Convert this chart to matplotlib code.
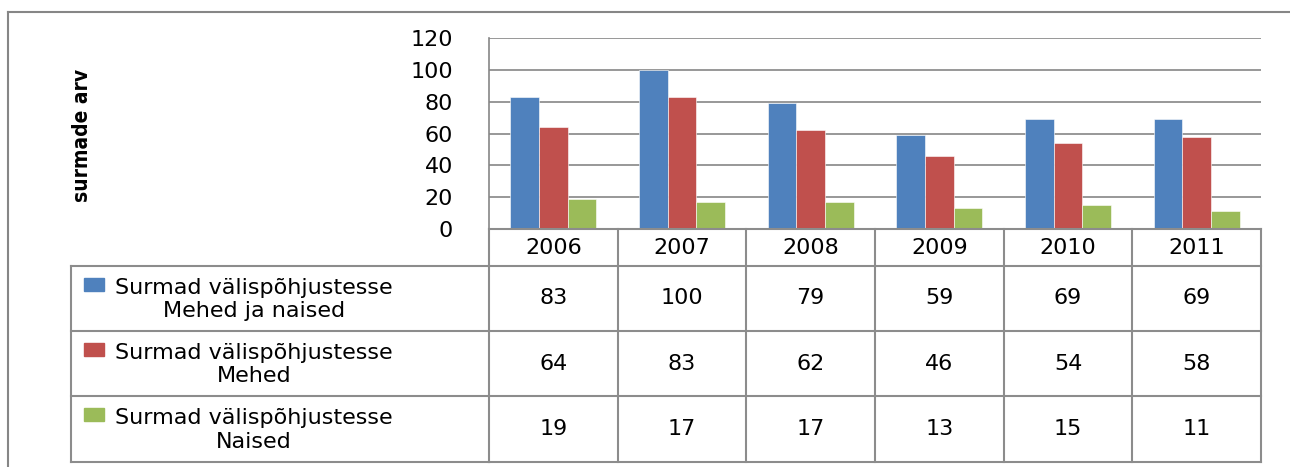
import numpy as np
import matplotlib
matplotlib.use("Agg")
import matplotlib.pyplot as plt
import matplotlib.transforms as mtransforms
from matplotlib.lines import Line2D
from matplotlib.patches import Rectangle

years = ["2006", "2007", "2008", "2009", "2010", "2011"]
series_names = ["Surmad välispõhjustesse\nMehed ja naised",
                "Surmad välispõhjustesse\nMehed",
                "Surmad välispõhjustesse\nNaised"]
total = [83, 100, 79, 59, 69, 69]
men = [64, 83, 62, 46, 54, 58]
women = [19, 17, 17, 13, 15, 11]
colors = ["#4F81BD", "#C0504D", "#9BBB59"]

W, H = 1290, 467
fig = plt.figure(figsize=(W / 100, H / 100), dpi=100)


def fx(px):
    return px / W


def fy(py):
    return 1 - py / H


grid_c = "#868686"
fs = 16
ax = fig.add_axes([fx(489), fy(229), fx(1261) - fx(489), fy(38) - fy(229)])

x = np.arange(len(years))
bw = 0.222
for i, vals in enumerate([total, men, women]):
    ax.bar(x + (i - 1) * bw, vals, bw, color=colors[i], edgecolor="white",
           linewidth=0.4, zorder=3)

ax.set_xlim(-0.5, len(years) - 0.5)
ax.set_ylim(0, 120)
ax.set_yticks(range(0, 121, 20))
ax.set_xticks([])
ax.tick_params(axis="y", length=0, pad=26, labelsize=fs)
ax.yaxis.grid(True, color=grid_c, linewidth=1.2, zorder=0)
for s in ["top", "right", "bottom"]:
    ax.spines[s].set_visible(False)
ax.spines["left"].set_color(grid_c)
ax.spines["left"].set_linewidth(1.2)

fig.text(fx(82), fy(135), "surmade arv", rotation=90, ha="center", va="center",
         fontsize=15, fontweight="bold", fontstretch="condensed",
         family=["DejaVu Sans"])

# data table under the chart
tr = mtransforms.blended_transform_factory(ax.transData, fig.transFigure)
tab_c = "#8C8C8C"
lw = 1.5
row_edges = [229, 266, 331, 396, 462]
xl, xr = -0.5, len(years) - 0.5

for py in row_edges:
    fig.add_artist(Line2D([xl, xr], [fy(py), fy(py)], transform=tr,
                          color=tab_c, linewidth=lw))
for py in row_edges[1:]:
    fig.add_artist(Line2D([fx(71), fx(489)], [fy(py), fy(py)],
                          transform=fig.transFigure, color=tab_c, linewidth=lw))
for b in np.arange(len(years) + 1) - 0.5:
    fig.add_artist(Line2D([b, b], [fy(229), fy(462)], transform=tr,
                          color=tab_c, linewidth=lw))
fig.add_artist(Line2D([fx(71), fx(71)], [fy(266), fy(462)],
                      transform=fig.transFigure, color=tab_c, linewidth=lw))

for j, yr in enumerate(years):
    fig.text(j, fy(248), yr, transform=tr, ha="center", va="center", fontsize=fs)

for i, vals in enumerate([total, men, women]):
    top, bot = row_edges[i + 1], row_edges[i + 2]
    mid = (top + bot) / 2
    for j, v in enumerate(vals):
        fig.text(j, fy(mid), str(v), transform=tr, ha="center", va="center",
                 fontsize=fs)
    fig.add_artist(Rectangle((fx(84), fy(top + 25)), fx(20), 13 / H,
                             transform=fig.transFigure, color=colors[i]))
    fig.text(fx(115), fy(mid + 1), series_names[i], ha="left", va="center",
             multialignment="center", fontsize=fs, linespacing=1.2)

# outer chart border
fig.add_artist(Line2D([fx(8), fx(8)], [fy(12), 0], transform=fig.transFigure,
                      color=grid_c, linewidth=1.5))
fig.add_artist(Line2D([fx(8), 1], [fy(12), fy(12)], transform=fig.transFigure,
                      color=grid_c, linewidth=1.5))

fig.savefig("out.png", dpi=100)
